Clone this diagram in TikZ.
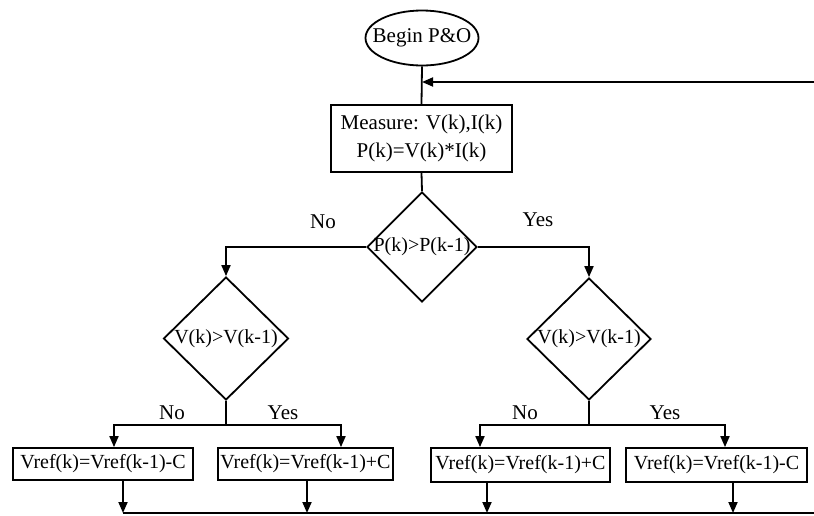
\documentclass[tikz,border=0pt]{standalone}
\usepackage{fontspec}
\setmainfont{Liberation Serif}
\usetikzlibrary{shapes.geometric,arrows.meta,calc}
\tikzset{
  base/.style={line width=1.8pt},
  arr/.style={base,-{Triangle[length=11pt,width=9pt]}},
  boxnode/.style={draw,base,rectangle,inner sep=0pt,align=center},
  dianode/.style={draw,base,diamond,inner sep=0pt},
  bigtxt/.style={font=\fontsize{21}{28}\selectfont},
  smalltxt/.style={font=\fontsize{20}{27}\selectfont},
  txt/.style={inner sep=0pt,smalltxt},
  lbl/.style={inner sep=0pt,bigtxt}
}
\begin{document}
\begin{tikzpicture}[x=1pt,y=-1pt]
\useasboundingbox (0,0) rectangle (814,515);
% nodes
\node[draw,base,ellipse,minimum width=113,minimum height=55,inner sep=0pt] (beg) at (422,38) {};
\node[inner sep=0pt,bigtxt] (begt) at (beg) {Begin P\&O};
\node[boxnode,bigtxt,minimum width=181,minimum height=67] (meas) at (421.5,138.5) {Measure: V(k),I(k)\\P(k)=V(k)*I(k)};
\node[dianode,minimum width=110,minimum height=110] (d1) at (422,247) {};
\node[txt] (d1t) at (d1) {P(k)>P(k-1)};
\node[dianode,minimum width=125,minimum height=123] (d2) at (226,338.5) {};
\node[txt] (d2t) at (d2) {V(k)>V(k-1)};
\node[dianode,minimum width=124,minimum height=122] (d3) at (589,339) {};
\node[txt] (d3t) at (d3) {V(k)>V(k-1)};
\node[boxnode,smalltxt,minimum width=180,minimum height=32] (b1) at (103,464) {Vref(k)=Vref(k-1)-C};
\node[boxnode,smalltxt,minimum width=175,minimum height=32] (b2) at (305.5,464) {Vref(k)=Vref(k-1)+C};
\node[boxnode,smalltxt,minimum width=179,minimum height=34] (b3) at (520.5,465) {Vref(k)=Vref(k-1)+C};
\node[boxnode,smalltxt,minimum width=181,minimum height=34] (b4) at (716.5,465) {Vref(k)=Vref(k-1)-C};
% labels
\node[lbl] (n1) at (323,222) {No};
\node[lbl] (y1) at (538,220) {Yes};
\node[lbl] (n2) at (172,413) {No};
\node[lbl] (y2) at (283,413) {Yes};
\node[lbl] (n3) at (525,413) {No};
\node[lbl] (y3) at (665,413) {Yes};
% coordinates
\coordinate (fb) at (814,82);
\coordinate (j2) at (226,425);
\coordinate (j3) at (589,425);
\coordinate (bl) at (123,513);
\coordinate (br) at (814,513);
% connectors
\draw[base] (beg.south) -- (meas.north);
\draw[arr] (fb) -- (fb -| beg.south);
\draw[base] (meas.south) -- (d1.north);
\draw[arr] (d1.west) -| (d2.north);
\draw[arr] (d1.east) -| (d3.north);
\draw[base] (d2.south) -- (j2);
\draw[arr] (j2) -| ([xshift=11]b1.north);
\draw[arr] (j2) -| ([xshift=35.5]b2.north);
\draw[base] (d3.south) -- (j3);
\draw[arr] (j3) -| ([xshift=-40.5]b3.north);
\draw[arr] (j3) -| ([xshift=8.5]b4.north);
\draw[arr] ([xshift=20]b1.south) -- ([xshift=20]b1.south |- bl);
\draw[arr] ([xshift=1.5]b2.south) -- ([xshift=1.5]b2.south |- bl);
\draw[arr] ([xshift=-33.5]b3.south) -- ([xshift=-33.5]b3.south |- bl);
\draw[arr] ([xshift=16.5]b4.south) -- ([xshift=16.5]b4.south |- bl);
\draw[base] (bl) -- (br);
\end{tikzpicture}
\end{document}
